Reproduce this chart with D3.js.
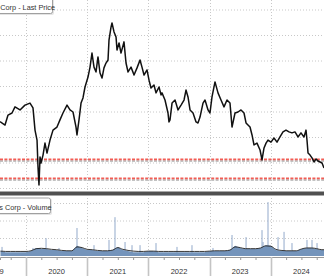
<!DOCTYPE html>
<html>
<head>
<meta charset="utf-8">
<script src="https://cdn.jsdelivr.net/npm/d3@7"></script>
<style>
  html, body { margin: 0; padding: 0; background: #fff; }
  svg { display: block; }
  text { font-family: "Liberation Sans Narrow", "Liberation Sans", sans-serif; fill: #333; }
</style>
</head>
<body>
<script>
// price series (decimal year, price)
const priceT = [2019.575,2019.657,2019.706,2019.771,2019.820,2019.902,2019.983,2020.065,2020.114,2020.147,
  2020.180,2020.196,2020.212,2020.229,2020.245,2020.278,2020.310,2020.343,2020.392,2020.441,
  2020.506,2020.555,2020.604,2020.670,2020.719,2020.768,2020.817,2020.833,2020.866,2020.899,
  2020.931,2020.964,2021.013,2021.046,2021.078,2021.111,2021.144,2021.176,2021.209,2021.242,
  2021.274,2021.307,2021.340,2021.356,2021.389,2021.405,2021.438,2021.471,2021.487,2021.520,
  2021.552,2021.601,2021.634,2021.667,2021.716,2021.765,2021.814,2021.863,2021.895,2021.928,
  2021.977,2022.010,2022.042,2022.091,2022.124,2022.173,2022.206,2022.222,2022.271,2022.320,
  2022.336,2022.353,2022.386,2022.435,2022.484,2022.533,2022.582,2022.614,2022.647,2022.680,
  2022.729,2022.778,2022.810,2022.843,2022.892,2022.925,2022.974,2023.006,2023.039,2023.088,
  2023.137,2023.186,2023.235,2023.284,2023.333,2023.366,2023.415,2023.464,2023.513,2023.562,
  2023.595,2023.627,2023.660,2023.693,2023.725,2023.774,2023.824,2023.856,2023.889,2023.922,
  2023.954,2024.003,2024.052,2024.101,2024.150,2024.199,2024.248,2024.297,2024.346,2024.395,
  2024.444,2024.493,2024.542,2024.575,2024.591,2024.608,2024.641,2024.673,2024.706,2024.739,
  2024.771,2024.804,2024.837,2024.869];
const priceV = [46.2,44.9,48.8,49.6,52.0,50.8,52.7,53.5,51.6,42.9,
  39.0,28.4,21.4,32.4,30.0,33.1,37.8,33.9,39.0,42.9,
  44.1,46.9,49.6,52.7,50.8,50.0,44.1,41.0,46.9,53.5,
  55.5,59.8,63.7,67.6,73.1,67.6,65.7,71.6,65.3,63.3,
  67.3,69.2,70.4,78.2,83.3,84.9,81.4,79.4,74.3,77.1,
  73.1,77.5,69.2,65.7,67.6,64.5,67.3,70.4,67.6,64.5,
  66.5,62.5,59.4,60.6,57.5,59.8,56.7,57.5,54.7,49.6,
  46.1,46.9,53.5,54.7,50.8,52.7,54.7,58.6,55.9,50.8,
  49.6,46.1,45.7,48.0,53.5,54.7,50.8,49.6,55.9,61.8,
  57.5,54.7,52.0,54.7,53.5,44.1,49.6,50.0,50.8,49.6,
  45.7,44.9,44.1,41.0,37.1,37.8,35.1,31.2,35.9,37.8,
  39.0,38.2,39.8,38.2,40.2,42.2,42.9,42.2,41.8,42.2,
  40.2,41.8,40.2,42.9,39.0,33.9,33.1,32.0,30.4,31.6,
  30.8,30.4,30.0,28.0];
const levels = [31.45, 24.0];

// volume (millions): monthly base level, moving average and the tall daily spikes
const volT = [2019.583,2019.667,2019.750,2019.833,2019.917,2020.000,2020.083,2020.167,2020.250,2020.333,
  2020.417,2020.500,2020.583,2020.667,2020.750,2020.833,2020.917,2021.000,2021.083,2021.167,
  2021.250,2021.333,2021.417,2021.500,2021.583,2021.667,2021.750,2021.833,2021.917,2022.000,
  2022.083,2022.167,2022.250,2022.333,2022.417,2022.500,2022.583,2022.667,2022.750,2022.833,
  2022.917,2023.000,2023.083,2023.167,2023.250,2023.333,2023.417,2023.500,2023.583,2023.667,
  2023.750,2023.833,2023.917,2024.000,2024.083,2024.167,2024.250,2024.333,2024.417,2024.500,
  2024.583,2024.667,2024.750,2024.833,2024.869];
const volV = [1.4,1.1,1.1,1.1,1.1,1.1,1.4,2.3,2.0,2.0,
  1.7,1.7,1.4,1.4,1.4,2.9,2.3,1.7,1.7,1.4,
  1.4,1.4,1.7,2.6,1.7,1.4,1.1,1.1,1.1,1.4,
  1.4,1.1,1.1,1.1,1.1,1.1,1.1,1.1,1.1,1.1,
  1.1,1.4,1.4,1.4,1.4,1.7,2.9,2.3,2.0,2.0,
  2.0,2.3,3.1,2.9,1.7,1.4,1.4,1.4,1.4,2.0,
  2.3,2.3,2.0,1.7,1.7];
const volAvg = [1.4,1.3,1.3,1.3,1.3,1.3,1.5,2.1,2.2,2.1,
  1.9,1.8,1.6,1.5,1.5,2.6,2.4,1.9,1.8,1.6,
  1.5,1.5,1.7,2.4,1.9,1.6,1.4,1.3,1.3,1.4,
  1.4,1.3,1.3,1.3,1.3,1.3,1.3,1.3,1.3,1.3,
  1.3,1.4,1.5,1.5,1.5,1.7,2.6,2.4,2.1,2.1,
  2.1,2.3,2.9,2.8,1.9,1.6,1.5,1.5,1.5,2.0,
  2.3,2.3,2.1,1.8,1.8];
const spikeT = [2019.608,2020.114,2020.229,2020.327,2020.539,2020.833,2021.111,2021.356,2021.454,2021.618,
  2021.732,2021.863,2022.124,2022.467,2022.712,2023.055,2023.366,2023.595,2023.856,2023.873,
  2023.954,2024.118,2024.216,2024.346,2024.591,2024.673,2024.755];
const spikeV = [2.6,2.3,2.3,5.1,2.3,8.0,3.1,4.6,11.1,4.0,
  3.1,3.1,3.7,2.6,3.1,2.3,6.0,5.4,7.4,4.0,
  15.4,5.4,6.9,3.7,4.6,4.6,3.7];

const years = [2020, 2021, 2022, 2023, 2024];
const yearLabels = [2019, 2020, 2021, 2022, 2023, 2024];
const priceGrid = [20, 30, 40, 50, 60, 70, 80, 90];
const volGrid = [5, 10, 15];

const width = 324, height = 276;

const svg = d3.select("body").append("svg")
  .attr("width", width)
  .attr("height", height);

const x = d3.scaleLinear().domain([2019.575, 2024.869]).range([0, width]);
const yP = d3.scaleLinear().domain([20, 90]).range([188.5, 10]);
const yV = d3.scaleLinear().domain([0, 15]).range([256, 203.5]);

const price = priceT.map((t, i) => ({t: t, v: priceV[i]}));
const vol = volT.map((t, i) => ({t: t, v: volV[i], a: volAvg[i]}));
const spikes = spikeT.map((t, i) => ({t: t, v: spikeV[i]}));

// grids
svg.append("g").selectAll("line")
  .data(priceGrid)
  .enter().append("line")
  .attr("x1", 0).attr("x2", width)
  .attr("y1", d => yP(d)).attr("y2", d => yP(d))
  .attr("stroke", "#c8c8c8").attr("stroke-dasharray", "1,2");

svg.append("g").selectAll("line")
  .data(volGrid)
  .enter().append("line")
  .attr("x1", 0).attr("x2", width)
  .attr("y1", d => yV(d)).attr("y2", d => yV(d))
  .attr("stroke", "#c8c8c8").attr("stroke-dasharray", "1,2");

svg.append("g").selectAll("line")
  .data(years)
  .enter().append("line")
  .attr("x1", d => Math.round(x(d)) + 0.5).attr("x2", d => Math.round(x(d)) + 0.5)
  .attr("y1", 0).attr("y2", 257)
  .attr("stroke", "#c8c8c8").attr("stroke-dasharray", "1,2");

// support levels
svg.append("g").selectAll("line")
  .data(levels)
  .enter().append("line")
  .attr("x1", 0).attr("x2", width)
  .attr("y1", d => yP(d) + 1.8).attr("y2", d => yP(d) + 1.8)
  .attr("stroke", "#aeaeae").attr("stroke-width", 1.5).attr("stroke-dasharray", "3,1.4");

svg.append("g").selectAll("line")
  .data(levels)
  .enter().append("line")
  .attr("x1", 0).attr("x2", width)
  .attr("y1", d => yP(d)).attr("y2", d => yP(d))
  .attr("stroke", "#f25c54").attr("stroke-width", 1.8).attr("stroke-dasharray", "3,1.4");

// price line
svg.append("path")
  .datum(price)
  .attr("fill", "none")
  .attr("stroke", "#111")
  .attr("stroke-width", 1.5)
  .attr("stroke-linejoin", "round")
  .attr("d", d3.line().x(d => x(d.t)).y(d => yP(d.v)));

// panel separator
svg.append("rect").attr("x", 0).attr("y", 191).attr("width", width).attr("height", 5).attr("fill", "#a8a8a8");
svg.append("rect").attr("x", 0).attr("y", 192).attr("width", width).attr("height", 3).attr("fill", "#505050");

// volume
svg.append("g").selectAll("rect")
  .data(spikes)
  .enter().append("rect")
  .attr("x", d => x(d.t) - 0.5)
  .attr("y", d => yV(d.v))
  .attr("width", 1)
  .attr("height", d => yV(0) - yV(d.v))
  .attr("fill", "#93aacb");

svg.append("path")
  .datum(vol)
  .attr("fill", "#7494bb")
  .attr("d", d3.area().x(d => x(d.t)).y0(yV(0)).y1(d => yV(d.v)));

svg.append("path")
  .datum(vol)
  .attr("fill", "none")
  .attr("stroke", "#222")
  .attr("stroke-width", 0.9)
  .attr("d", d3.line().curve(d3.curveMonotoneX).x(d => x(d.t)).y(d => yV(d.a)));

// bottom axis
const quarters = [];
yearLabels.forEach(y => [0.25, 0.5, 0.75].forEach(q => quarters.push(y + q)));

svg.append("g")
  .attr("transform", "translate(0,257)")
  .call(d3.axisBottom(x).tickValues(quarters).tickSize(3).tickFormat(""))
  .call(g => g.select(".domain").attr("stroke", "#999"))
  .call(g => g.selectAll(".tick line").attr("stroke", "#999"));

svg.append("g").selectAll("line")
  .data(years)
  .enter().append("line")
  .attr("x1", d => Math.round(x(d)) + 0.5).attr("x2", d => Math.round(x(d)) + 0.5)
  .attr("y1", 257).attr("y2", height)
  .attr("stroke", "#c4c4c4").attr("stroke-width", 1.6);

svg.append("g").selectAll("text")
  .data(yearLabels)
  .enter().append("text")
  .attr("x", d => x(d + 0.5))
  .attr("y", 273.5)
  .attr("text-anchor", "middle")
  .style("font-size", "7.5px")
  .text(d => d);

// legends
function legend(x1, y1, y2, label, tx, base) {
  svg.append("rect")
    .attr("x", -3).attr("y", y1 + 1).attr("width", x1 + 4).attr("height", y2 - y1)
    .attr("rx", 2).attr("fill", "#e4e4e4");
  svg.append("rect")
    .attr("x", -3.5).attr("y", y1 + 0.5).attr("width", x1 + 3).attr("height", y2 - y1 - 1)
    .attr("rx", 2).attr("fill", "#fff").attr("stroke", "#a0a0a0");
  svg.append("text")
    .attr("x", tx).attr("y", base)
    .style("font-size", "7.3px")
    .text(label);
}
legend(53, -3, 14, "Corp - Last Price", 0.3, 10);
legend(51, 197.5, 214, "s Corp - Volume", -0.8, 209.5);
</script>
</body>
</html>
